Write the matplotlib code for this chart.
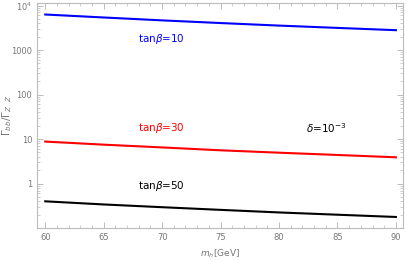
import numpy as np
import matplotlib.pyplot as plt
from matplotlib.ticker import FixedLocator, LogLocator, NullFormatter, MultipleLocator

# masses in GeV and ratios
mh = [60, 65, 70, 75, 80, 85, 90]
ratio_tb10 = [6300, 5400, 4650, 4050, 3550, 3150, 2800]
ratio_tb30 = [8.8, 7.5, 6.5, 5.6, 4.95, 4.4, 3.9]
ratio_tb50 = [0.40, 0.34, 0.295, 0.257, 0.225, 0.20, 0.178]

ytick_vals = [1, 10, 100, 1000, 10000]
ytick_labels = ['1', '10', '100', '1000', r'$10^4$']

grey = '#777777'
frame = '#bbbbbb'

fig = plt.figure(figsize=(4.07, 2.61), dpi=100)
ax = fig.add_axes([0.091, 0.126, 0.899, 0.863])

ax.plot(mh, ratio_tb10, color='#0000ff', lw=1.5)
ax.plot(mh, ratio_tb30, color='#ff0000', lw=1.5)
ax.plot(mh, ratio_tb50, color='black', lw=1.5)

ax.set_yscale('log')
ax.set_xlim(59.3, 90.6)
ax.set_ylim(0.1, 1.15e4)

ax.yaxis.set_major_locator(FixedLocator(ytick_vals))
ax.set_yticklabels(ytick_labels)
ax.yaxis.set_minor_locator(LogLocator(base=10, subs=np.arange(2, 10)))
ax.yaxis.set_minor_formatter(NullFormatter())
ax.xaxis.set_major_locator(MultipleLocator(5))
ax.xaxis.set_minor_locator(MultipleLocator(1))

for s in ax.spines.values():
    s.set_color(frame)
    s.set_linewidth(0.8)
ax.tick_params(which='both', direction='in', colors=frame, labelcolor=grey, labelsize=6)
ax.tick_params(which='major', length=4, width=0.7)
ax.tick_params(which='minor', length=2, width=0.5)
ax.tick_params(axis='y', which='both', right=True, labelright=False)
ax.tick_params(axis='x', which='both', top=True, labeltop=False)

ax.set_xlabel(r'$m_h$[GeV]', color=grey, fontsize=6.5, labelpad=4)
ax.set_ylabel(r'$\Gamma_{bb}/\Gamma_{Z\ \ Z}$', color=grey, fontsize=7.5)
ax.yaxis.set_label_coords(-0.063, 0.5)

ax.text(67.9, 2500, r'tan$\beta$=10', color='#0000ff', fontsize=7.5, va='top')
ax.text(67.9, 25, r'tan$\beta$=30', color='#ff0000', fontsize=7.5, va='top')
ax.text(82.3, 25, r'$\delta$=10$^{-3}$', color='black', fontsize=7.5, va='top')
ax.text(67.9, 1.3, r'tan$\beta$=50', color='black', fontsize=7.5, va='top')

fig.savefig('out.png', dpi=100)
